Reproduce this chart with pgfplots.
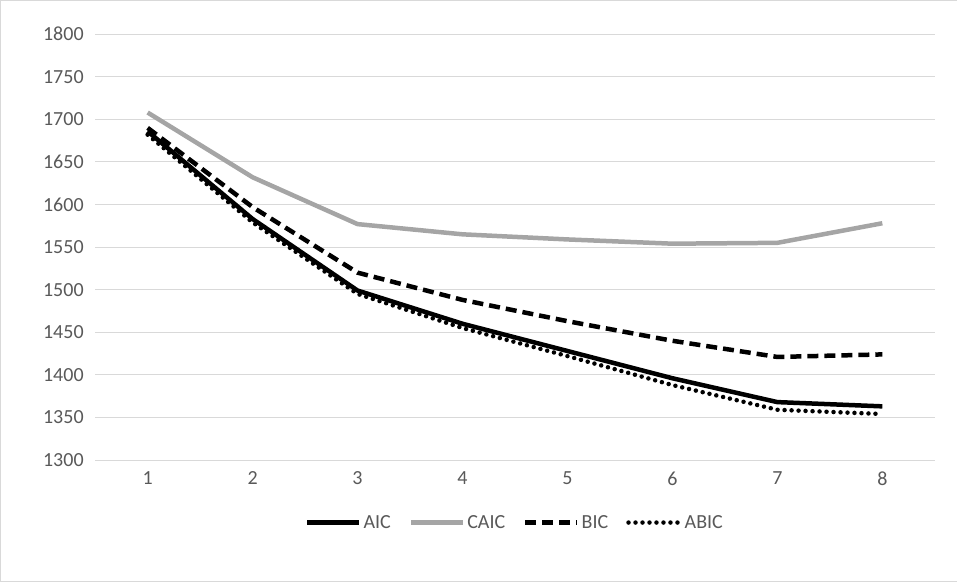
\documentclass[border=0pt]{standalone}
\usepackage{pgfplots}
\pgfplotsset{compat=1.18}
\usepackage{fontspec}
\setmainfont{Carlito}
\begin{document}
\begin{tikzpicture}
\definecolor{gridc}{RGB}{217,217,217}
\definecolor{txt}{RGB}{89,89,89}
\definecolor{caic}{RGB}{165,165,165}
\draw[gridc] (0,0) rectangle (957pt,581pt);
\begin{axis}[at={(95pt,121pt)},anchor=south west,
  width=840pt,height=426pt,scale only axis,
  xmin=0.5,xmax=8.5,ymin=1300,ymax=1800,
  xtick={1,...,8},ytick={1300,1350,...,1800},
  ymajorgrids,grid style={gridc,line width=1pt},
  axis line style={draw=none},
  axis x line*=bottom,
  tick style={draw=none},
  ticklabel style={font=\fontsize{20}{22}\selectfont,text=txt},
  yticklabel style={xshift=-8pt},
  xticklabel style={yshift=-8pt},
  /pgf/number format/assume math mode=true,
  /pgf/number format/1000 sep={},
  legend style={at={(0.5,-0.12)},anchor=north,draw=none,legend columns=4,
    font=\fontsize{20}{22}\selectfont,text=txt,
    /tikz/every even column/.append style={column sep=16pt}},
  legend image code/.code={\draw[#1] (0pt,0pt) -- (52pt,0pt);},
  every axis plot/.append style={line width=4.5pt}]
\addplot[black] coordinates {(1,1686)(2,1583)(3,1499)(4,1460)(5,1428)(6,1396)(7,1368)(8,1363)};
\addlegendentry{AIC}
\addplot[caic] coordinates {(1,1708)(2,1632)(3,1577)(4,1565)(5,1559)(6,1554)(7,1555)(8,1578)};
\addlegendentry{CAIC}
\addplot[black,dash pattern=on 11pt off 6pt] coordinates {(1,1690)(2,1597)(3,1520)(4,1488)(5,1463)(6,1440)(7,1421)(8,1424)};
\addlegendentry{BIC}
\addplot[black,line cap=round,dash pattern=on 0pt off 7pt] coordinates {(1,1682)(2,1579)(3,1495)(4,1455)(5,1422)(6,1388)(7,1359)(8,1354)};
\addlegendentry{ABIC}
\draw[gridc,line width=1pt] (axis cs:0.5,1300) -- (axis cs:8.5,1300);
\end{axis}
\end{tikzpicture}
\end{document}
